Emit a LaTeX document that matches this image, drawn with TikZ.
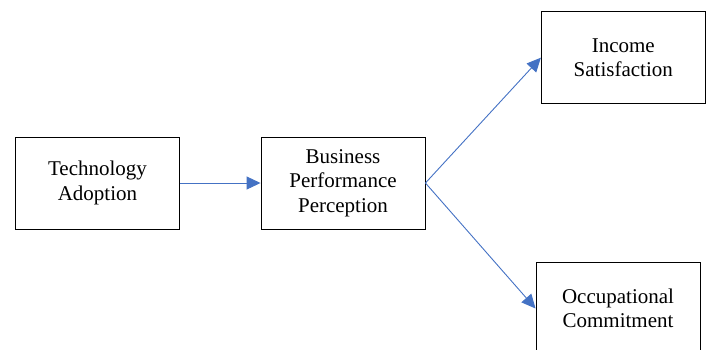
\documentclass[tikz,border=0pt]{standalone}
\usepackage{fontspec}
\setmainfont{Liberation Serif}
\usepackage{xcolor}
\usetikzlibrary{positioning,arrows.meta}
\definecolor{arrowblue}{HTML}{4472C4}

\begin{document}
\begin{tikzpicture}[
  x=1pt, y=-1pt,
  font=\rmfamily\fontsize{21}{24.5}\selectfont,
  block/.style={draw, line width=0.9pt, align=center, minimum width=164pt,
                minimum height=92pt, inner sep=2pt},
  arr/.style={-{Triangle[length=14pt,width=13pt]}, draw=arrowblue, line width=0.9pt},
]
\clip (0,0) rectangle (707,349);
\node[block] (tech) at (97.5,183) {Technology\\ Adoption};
\node[block] (perf) at (343,183) {Business\\ Performance\\ Perception};
\node[block] (income) at (623.3,57.7) {Income\\ Satisfaction};
\node[block, minimum height=93pt] (commit) at (618,308.5) {Occupational\\ Commitment};
\draw[arr] (tech.east) -- (perf.west);
\draw[arr] (perf.east) -- (income.west);
\draw[arr] (perf.east) -- (commit.west);
\end{tikzpicture}
\end{document}
